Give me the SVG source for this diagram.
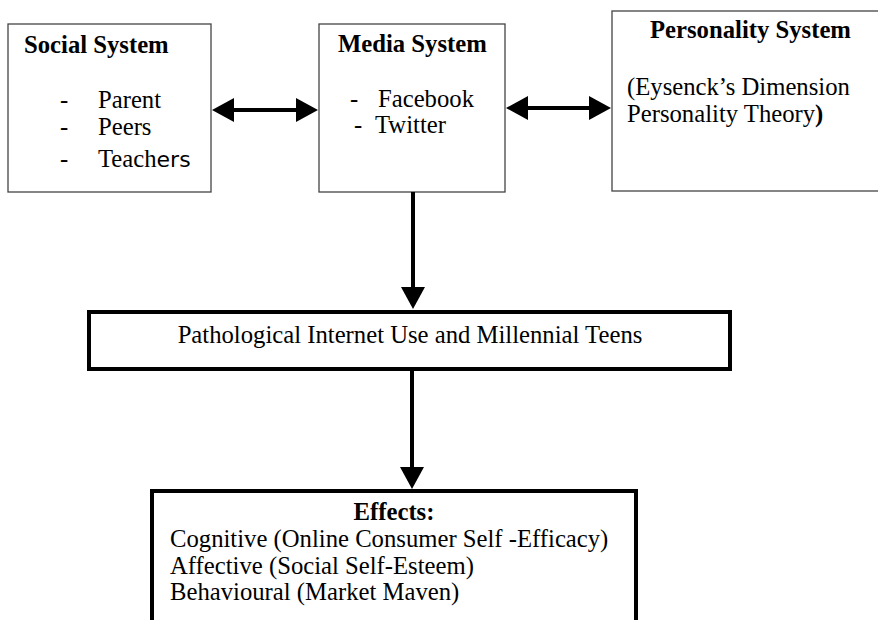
<svg xmlns="http://www.w3.org/2000/svg" width="878" height="620" viewBox="0 0 878 620">
<style>
text{font-family:"Liberation Serif","Times New Roman",serif;font-size:24.7px;fill:#000}
.b{font-weight:bold}
.thin{fill:#fff;stroke:#444;stroke-width:1.3}
.thick{fill:#fff;stroke:#000;stroke-width:4}
.conn{stroke:#000;stroke-width:4;fill:none}
.sans{font-family:"DejaVu Sans","Liberation Sans",sans-serif;font-size:22px}
</style>
<defs>
<marker id="ah" markerUnits="userSpaceOnUse" markerWidth="22" markerHeight="24" refX="10" refY="12" orient="auto-start-reverse">
<path d="M0,0 L22,12 L0,24 Z" fill="#000"/>
</marker>
</defs>
<rect width="878" height="620" fill="#fff"/>
<g id="social">
<rect class="thin" x="8" y="24" width="203" height="168"/>
<text class="b" x="24" y="53">Social System</text>
<text x="60" y="108">-</text><text x="98" y="108">Parent</text>
<text x="60" y="135">-</text><text x="98" y="135">Peers</text>
<text x="60" y="167">-</text><text x="98" y="167">Teach<tspan class="sans">ers</tspan></text>
</g>
<g id="media">
<rect class="thin" x="319" y="24" width="186" height="168"/>
<text class="b" x="338" y="52">Media System</text>
<text x="350" y="107">-</text><text x="378" y="107">Facebook</text>
<text x="354" y="133">-</text><text x="375" y="133">Twitter</text>
</g>
<g id="personality">
<rect class="thin" x="612" y="11" width="280" height="180"/>
<text class="b" x="650" y="38">Personality System</text>
<text x="627" y="95">(Eysenck’s Dimension</text>
<text x="627" y="122">Personality Theory<tspan class="b">)</tspan></text>
</g>
<g id="piu">
<rect class="thick" x="89" y="312" width="641" height="57"/>
<text x="410" y="343" text-anchor="middle">Pathological Internet Use and Millennial Teens</text>
</g>
<g id="effects">
<rect class="thick" x="152" y="491" width="484" height="150"/>
<text class="b" x="394" y="520" text-anchor="middle">Effects:</text>
<text x="170" y="547">Cognitive (Online Consumer Self -Efficacy)</text>
<text x="170" y="574">Affective (Social Self-Esteem)</text>
<text x="170" y="600">Behavioural (Market Maven)</text>
</g>
<g id="connectors">
<line class="conn" x1="224" y1="110" x2="306" y2="110" marker-start="url(#ah)" marker-end="url(#ah)"/>
<line class="conn" x1="518" y1="108" x2="599" y2="108" marker-start="url(#ah)" marker-end="url(#ah)"/>
<line class="conn" x1="413" y1="192" x2="413" y2="297" marker-end="url(#ah)"/>
<line class="conn" x1="412" y1="371" x2="412" y2="477" marker-end="url(#ah)"/>
</g>
</svg>
